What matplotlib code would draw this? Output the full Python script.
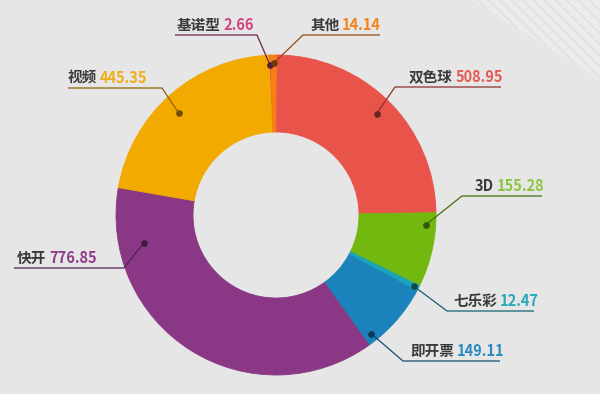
import numpy as np
import matplotlib.pyplot as plt
from matplotlib.patches import Polygon
from matplotlib.colors import to_rgb

plt.rcParams['font.family'] = ['Noto Sans CJK SC', 'DejaVu Sans']
plt.rcParams['hatch.linewidth'] = 0.6

# data (clockwise from the top)
names = ['基诺型', '其他', '双色球', '3D', '七乐彩', '即开票', '快开', '视频']
values = [2.66, 14.14, 508.95, 155.28, 12.47, 149.11, 776.85, 445.35]
colors = ['#b9378a', '#fa7d16', '#e8534a', '#72b80f', '#1ba3b6', '#1b82bb', '#8a3885', '#f2aa00']
value_colors = ['#d0437e', '#f5821f', '#e55a50', '#8cc63f', '#26a8b8', '#2b88c1', '#8e3b88', '#f0ae1a']

# label layout in pixels: side of elbow, underline x0, x1, y, text x, dot position along wedge, dot radius
layout = [
    ('right', 175, 257, 35, 177, 0.5, 150),
    ('left', 303, 380, 35, 310, 0.5, 152),
    ('left', 395, 501, 87, 409, 0.5, 143),
    ('left', 462, 542, 196, 475, 0.17, 150),
    ('left', 447, 534, 311, 453, 0.5, 155),
    ('left', 403, 500, 361, 410, 0.88, 152),
    ('right', 14, 124, 268, 17, 0.84, 135),
    ('right', 68, 162, 88, 68, 0.47, 141),
]

W, H = 600, 394
bg = '#e6e6e6'


def Y(y):
    return H - y


def darker(c, f=0.5):
    r, g, b = to_rgb(c)
    return (r * f, g * f, b * f)


fig = plt.figure(figsize=(6, 3.94), dpi=100, facecolor=bg)
ax = fig.add_axes([0, 0, 1, 1])
ax.set_facecolor(bg)

# striped corner
tri = Polygon([(471, Y(0)), (W, Y(0)), (W, Y(80))], closed=True,
              facecolor='#ebebeb', edgecolor='#d8d8d8', linewidth=0, hatch='\\\\\\')
ax.add_patch(tri)

cx, cy, R, r_in = 276, Y(215), 160, 83
wedges, _ = ax.pie(values, colors=colors, startangle=92.5, counterclock=False,
                   radius=R, center=(cx, cy),
                   wedgeprops=dict(width=R - r_in, linewidth=0.6))
for w, c in zip(wedges, colors):
    w.set_edgecolor(c)

for i, w in enumerate(wedges):
    side, x0, x1, yu, tx, frac, rad = layout[i]
    ang = np.deg2rad(w.theta2 - frac * (w.theta2 - w.theta1))
    dx, dy = cx + rad * np.cos(ang), cy + rad * np.sin(ang)
    lc = darker(colors[i], 0.6)
    if side == 'left':
        xs = [dx, x0, x1]
    else:
        xs = [dx, x1, x0]
    ax.plot(xs, [dy, Y(yu), Y(yu)], color=lc, lw=0.9, solid_capstyle='butt')
    ax.plot(dx, dy, 'o', ms=4.8, color=darker(colors[i], 0.45), mec='none')
    t = ax.text(tx, Y(yu - 10), names[i], color='#3a3a3a', fontsize=10.5,
                fontweight='bold', ha='left', va='center')
    ax.annotate(f'{values[i]:.2f}', xy=(1, 0), xycoords=t, xytext=(2, 0),
                textcoords='offset points', color=value_colors[i], fontsize=10.5,
                fontweight='bold', ha='left', va='bottom')

ax.set_xlim(0, W)
ax.set_ylim(0, H)
ax.set_aspect('equal')
ax.axis('off')

fig.savefig('out.png', dpi=100, facecolor=bg)
